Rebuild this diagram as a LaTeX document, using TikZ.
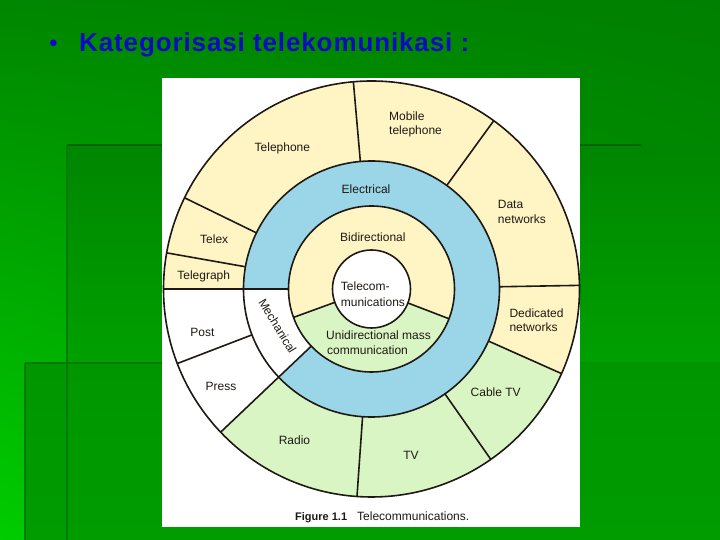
\documentclass[tikz,border=0pt]{standalone}
\usepackage{fontspec}
\setmainfont{Liberation Sans}
\newfontfamily\lblfont{Liberation Sans}
\newfontfamily\titlefont[LetterSpace=3.4]{Liberation Sans}
\usetikzlibrary{shadings}
\definecolor{yel}{RGB}{255,245,196}
\definecolor{blu}{RGB}{155,214,232}
\definecolor{grn}{RGB}{218,245,196}
\definecolor{ink}{RGB}{30,25,20}
\definecolor{titleblue}{RGB}{12,12,190}
\definecolor{bgUL}{RGB}{0,134,0}
\definecolor{bgUR}{RGB}{0,128,0}
\definecolor{bgLL}{RGB}{0,204,0}
\definecolor{bgLR}{RGB}{0,156,0}
\definecolor{panA1}{RGB}{0,134,0}
\definecolor{panA2}{RGB}{0,160,0}
\definecolor{panB1}{RGB}{0,150,0}
\definecolor{panB2}{RGB}{0,156,0}
\definecolor{edge}{RGB}{0,100,0}
\begin{document}
\begin{tikzpicture}[x=1pt,y=1pt,
  lbl/.style={font=\lblfont\fontsize{12}{14}\selectfont, inner sep=0pt, anchor=base, text=ink},
  lblw/.style={lbl, anchor=base west},
  ring/.style={draw=ink, line width=1.6pt},
  sep/.style={draw=ink, line width=1.6pt}]
\useasboundingbox (0,0) rectangle (720,540);
% background
\shade[upper left=bgUL, upper right=bgUR, lower left=bgLL, lower right=bgLR] (0,0) rectangle (720,540);
\shade[top color=panA1, bottom color=panA2] (67,177) rectangle (720,395);
\shade[top color=panB1, bottom color=panB2] (25,0) rectangle (720,177);
\draw[edge, line width=2.5pt] (67,395) -- (642,395);
\draw[edge!85!green, line width=1.8pt] (67,395) -- (67,0);
\draw[edge!85!green, line width=1.5pt] (25,177) -- (162,177);
\draw[edge!85!green, line width=1.5pt] (25,177) -- (25,0);
% title
\node[anchor=base, font=\lblfont\fontsize{24.5}{28}\selectfont, text=titleblue, inner sep=0pt] (bullet) at (53.3,488.3) {•};
\node[anchor=base west, font=\titlefont\fontsize{26}{30}\selectfont\bfseries, text=titleblue, inner sep=0pt] (title) at (79,488.3) {Kategorisasi telekomunikasi :};
% figure panel
\fill[white] (162,13) rectangle (580,462);
\coordinate (C) at (371.5,251);
\fill[yel] (C) circle (208);
\fill[grn] (C) -- ++(223.5:208) arc[start angle=223.5, end angle=336, radius=208] -- cycle;
\fill[white] (C) -- ++(180:208) arc[start angle=180, end angle=223.5, radius=208] -- cycle;
\fill[blu] (C) circle (128);
\fill[white] (C) -- ++(180:128) arc[start angle=180, end angle=223.5, radius=128] -- cycle;
\fill[yel] (C) circle (83);
\fill[grn] (C) -- ++(200:83) arc[start angle=200, end angle=339, radius=83] -- cycle;
\fill[white] (C) circle (39);
% circles
\draw[ring] (C) circle (208);
\draw[ring] (C) circle (128);
\draw[ring] (C) circle (83);
\draw[ring] (C) circle (39);
% separators
\foreach \a in {95,54,1,-24,-55,-94,-159,170,154}
  \draw[sep] (C) ++(\a:128) -- ++(\a:80);
\foreach \a in {180,223.5}
  \draw[sep] (C) ++(\a:83) -- ++(\a:125);
\foreach \a in {200,339}
  \draw[sep] (C) ++(\a:39) -- ++(\a:44);
% labels
\node[lbl] (telephone) at (282.4,388.3) {Telephone};
\node[lblw] (mobile1) at (389,419) {Mobile};
\node[lblw] (mobile2) at (389,405.5) {telephone};
\node[lblw] (data1) at (497.7,331.4) {Data};
\node[lblw] (data2) at (497.7,316.7) {networks};
\node[lblw] (ded1) at (509.3,222.4) {Dedicated};
\node[lblw] (ded2) at (509.3,208) {networks};
\node[lbl] (cable) at (495.7,143) {Cable TV};
\node[lbl] (tv) at (411,80) {TV};
\node[lbl] (radio) at (294.5,95.7) {Radio};
\node[lbl] (press) at (221,149) {Press};
\node[lbl] (post) at (202.4,203) {Post};
\node[lbl] (telegraph) at (203.7,260.7) {Telegraph};
\node[lbl] (telex) at (214.2,296.4) {Telex};
\node[lbl] (electrical) at (366,346.9) {Electrical};
\node[lbl] (bidir) at (372.9,298) {Bidirectional};
\node[lblw] (tc1) at (340.7,249.1) {Telecom-};
\node[lblw] (tc2) at (340.7,233.6) {munications};
\node[lblw] (uni1) at (326,200.9) {Unidirectional mass};
\node[lblw] (uni2) at (327,185) {communication};
\node[lbl, anchor=center, rotate=-58.6] (mech) at (277.5,214) {Mechanical};
% caption
\node[anchor=base west, inner sep=0pt, font=\lblfont\fontsize{11}{13}\selectfont\bfseries, text=ink] (figno) at (295,19) {Figure 1.1};
\node[anchor=base west, inner sep=0pt, font=\lblfont\fontsize{12}{14}\selectfont, text=ink] (figcap) at (357,19) {Telecommunications.};
\end{tikzpicture}
\end{document}
